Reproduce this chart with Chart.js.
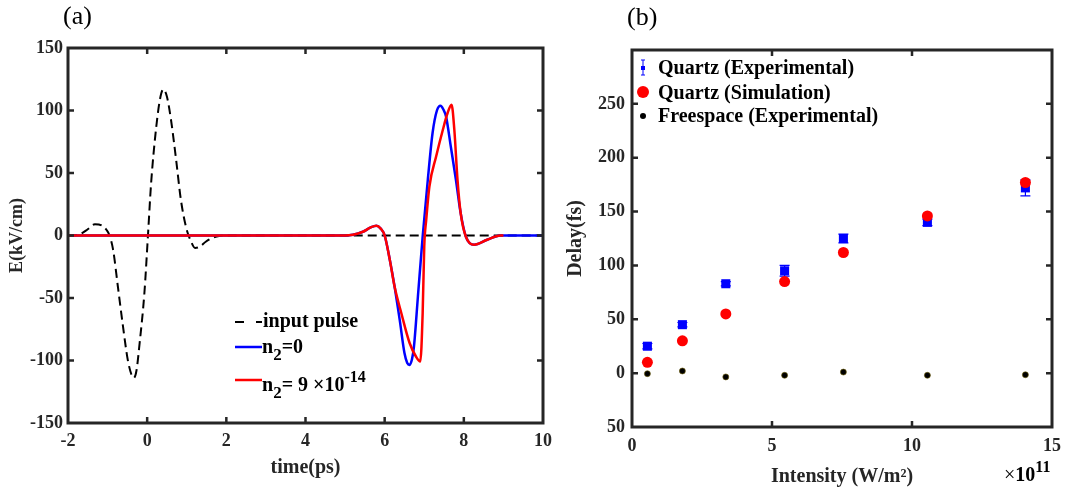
<!DOCTYPE html>
<html>
<head>
<meta charset="utf-8">
<script src="https://cdn.jsdelivr.net/npm/chart.js@4.4.1/dist/chart.umd.min.js"></script>
<style>
  body { margin:0; background:#fff; }
  #wrap { position:relative; width:1070px; height:495px; overflow:hidden; font-family:'Liberation Serif','Times New Roman',serif; color:#000; }
  canvas { position:absolute; top:0; }
  .lbl { position:absolute; white-space:nowrap; font-size:20px; line-height:20px; font-weight:bold; }
  .lbl sub, .lbl sup { line-height:0; }
</style>
</head>
<body>
<div id="wrap">
  <canvas id="chartA" width="560" height="495" style="left:0"></canvas>
  <canvas id="chartB" width="510" height="495" style="left:560px"></canvas>

  <div style="position:absolute;left:63px;top:2px;font-size:26px;line-height:28px">(a)</div>
  <div style="position:absolute;left:627px;top:3px;font-size:26px;line-height:28px">(b)</div>

  <!-- legend (a) -->
  <svg style="position:absolute;left:0;top:0" width="560" height="495">
    <line x1="235" y1="322" x2="262" y2="322" stroke="#000" stroke-width="2.2" stroke-dasharray="9,12"/>
    <line x1="235" y1="347" x2="262" y2="347" stroke="#0000ff" stroke-width="2.5"/>
    <line x1="235" y1="380" x2="262" y2="380" stroke="#ff0000" stroke-width="2.5"/>
  </svg>
  <div class="lbl" style="left:263px;top:310px">input pulse</div>
  <div class="lbl" style="left:262px;top:336px">n<sub style="font-size:17px;vertical-align:-7px">2</sub>=0</div>
  <div class="lbl" style="left:262px;top:374px">n<sub style="font-size:17px;vertical-align:-7px">2</sub>= 9 &times;10<sup style="font-size:16px;vertical-align:9px">-14</sup></div>

  <!-- legend (b) -->
  <svg style="position:absolute;left:560px;top:0" width="510" height="495">
    <g stroke="#0000ff" stroke-width="1">
      <line x1="83" y1="60" x2="83" y2="75"/>
      <line x1="81" y1="60" x2="85" y2="60"/>
      <line x1="81" y1="75" x2="85" y2="75"/>
    </g>
    <rect x="81" y="66" width="4" height="4" fill="#0000ff"/>
    <circle cx="83" cy="92" r="6" fill="#ff0000"/>
    <circle cx="83" cy="116" r="3" fill="#000"/>
  </svg>
  <div class="lbl" style="left:658px;top:57px">Quartz (Experimental)</div>
  <div class="lbl" style="left:658px;top:82px">Quartz (Simulation)</div>
  <div class="lbl" style="left:658px;top:105px">Freespace (Experimental)</div>

  <div style="position:absolute;left:1004px;top:464px;font-size:20px;line-height:20px;white-space:nowrap">&times;<b>10</b><sup style="font-size:16px;line-height:0;vertical-align:9px;font-weight:bold">11</sup></div>
</div>

<script>
// ---- panel (a): field vs time ----
const inputX = [-2, -1.7, -1.5, -1.32, -1.15, -1.03, -0.95, -0.86, -0.74, -0.61, -0.49, -0.4, -0.34, -0.27, -0.19, -0.07, 0.02, 0.1, 0.23, 0.33, 0.41, 0.5, 0.6, 0.73, 0.85, 0.98, 1.11, 1.21, 1.33, 1.48, 1.73, 2.0, 10];
const inputY = [0, 1, 5, 9, 8, 4.6, 0, -11.5, -40.8, -72.9, -99.5, -111, -114, -108, -86, -46, 0, 42, 87, 110, 117, 111, 93, 61, 29, 7, -5, -10, -9, -5, -1, 0, 0];

const n0X = [-2, 5.0, 5.2, 5.45, 5.65, 5.79, 5.9, 6.0, 6.13, 6.25, 6.38, 6.5, 6.57, 6.63, 6.69, 6.74, 6.84, 6.96, 7.09, 7.21, 7.32, 7.41, 7.48, 7.55, 7.67, 7.8, 7.92, 8.05, 8.26, 8.59, 8.92, 10];
const n0Y = [0, 0, 0.6, 3, 6.5, 7.8, 5.5, 0, -19.5, -40.8, -67.5, -94, -102, -103.5, -99, -88.9, -48.8, -0.8, 44.6, 82, 100, 103.8, 101, 95.3, 71.3, 44.6, 17.9, -0.8, -7.4, -3.4, 0, 0];

const n9X = [-2, 5.0, 5.2, 5.45, 5.65, 5.79, 5.9, 6.0, 6.13, 6.25, 6.42, 6.63, 6.79, 6.9, 6.96, 7.0, 7.05, 7.13, 7.3, 7.47, 7.59, 7.69, 7.76, 7.84, 7.92, 8.05, 8.26, 8.59, 8.92, 9.0];
const n9Y = [0, 0, 0.6, 3, 6.5, 7.8, 5.5, 0, -19.5, -40.8, -62, -86, -96.8, -100.8, -62, -8.8, 12.6, 39.2, 63.2, 84.6, 98, 104.6, 84.6, 44.6, 18, -0.8, -7.4, -3.4, 0, 0];

// ---- panel (b): delay vs intensity (x10^11 W/m^2) ----
const intensity  = [0.55, 1.8, 3.35, 5.45, 7.55, 10.55, 14.05];
const quartzExp  = [25, 45, 83, 95, 125, 140, 172];
const quartzErr  = [2.5, 2, 2, 5, 4, 3, 7.5];
const quartzSim  = [10, 30, 55, 85, 112, 146, 177];
const freeExp    = [-0.5, 2, -3.5, -2, 1, -2, -1.5];

const pts = (xs, ys) => xs.map((x, i) => ({ x, y: ys[i] }));

const INK = '#262626';
const tickFont  = { family: "'Liberation Serif','Times New Roman',serif", size: 18, weight: 'bold' };
const titleFont = { family: "'Liberation Serif','Times New Roman',serif", size: 20, weight: 'bold' };

// box frame with inward ticks on all four sides
const frame = {
  id: 'frame',
  afterDraw(chart) {
    const { ctx, chartArea: a, scales } = chart;
    const t = 6;
    ctx.save();
    ctx.strokeStyle = INK;
    ctx.lineWidth = 2.5;
    ctx.beginPath();
    scales.x.ticks.forEach(tk => {
      const px = scales.x.getPixelForValue(tk.value);
      if (px <= a.left + 2 || px >= a.right - 2) return;
      ctx.moveTo(px, a.bottom); ctx.lineTo(px, a.bottom - t);
      ctx.moveTo(px, a.top);    ctx.lineTo(px, a.top + t);
    });
    scales.y.ticks.forEach(tk => {
      const py = scales.y.getPixelForValue(tk.value);
      if (py <= a.top + 2 || py >= a.bottom - 2) return;
      ctx.moveTo(a.left, py);  ctx.lineTo(a.left + t, py);
      ctx.moveTo(a.right, py); ctx.lineTo(a.right - t, py);
    });
    ctx.stroke();
    ctx.lineWidth = 3;
    ctx.strokeRect(a.left, a.top, a.right - a.left, a.bottom - a.top);
    ctx.restore();
  }
};

const errorBars = {
  id: 'errorBars',
  beforeDatasetsDraw(chart) {
    const { ctx, scales: { x, y } } = chart;
    ctx.save();
    ctx.strokeStyle = '#0000ff';
    ctx.lineWidth = 1.2;
    intensity.forEach((v, i) => {
      const px  = x.getPixelForValue(v);
      const top = y.getPixelForValue(quartzExp[i] + quartzErr[i]);
      const bot = y.getPixelForValue(quartzExp[i] - quartzErr[i]);
      ctx.beginPath();
      ctx.moveTo(px, top); ctx.lineTo(px, bot);
      ctx.moveTo(px - 5, top); ctx.lineTo(px + 5, top);
      ctx.moveTo(px - 5, bot); ctx.lineTo(px + 5, bot);
      ctx.stroke();
    });
    ctx.restore();
  }
};

new Chart(document.getElementById('chartA'), {
  type: 'line',
  data: {
    datasets: [
      { label: 'n2= 9x10^-14', data: pts(n9X, n9Y), borderColor: '#ff0000', borderWidth: 2.5, pointRadius: 0, cubicInterpolationMode: 'monotone', order: 0 },
      { label: 'n2=0',         data: pts(n0X, n0Y), borderColor: '#0000ff', borderWidth: 2.5, pointRadius: 0, cubicInterpolationMode: 'monotone', order: 1 },
      { label: 'input pulse',  data: pts(inputX, inputY), borderColor: '#000000', borderWidth: 2, borderDash: [9, 5], pointRadius: 0, cubicInterpolationMode: 'monotone', order: 2 },
    ]
  },
  options: {
    responsive: false, animation: false,
    layout: { padding: { left: 0, top: 48, right: 14, bottom: 0 } },
    plugins: { legend: { display: false }, tooltip: { enabled: false } },
    scales: {
      x: {
        type: 'linear', min: -2, max: 10,
        grid: { display: false, drawTicks: false }, border: { display: false },
        ticks: { stepSize: 2, padding: 8, color: INK, font: tickFont, maxRotation: 0 },
        title: { display: true, text: 'time(ps)', color: INK, font: titleFont, padding: { top: 0, bottom: 15 } },
        afterFit: s => { s.height = 72; }
      },
      y: {
        min: -150, max: 150,
        grid: { display: false, drawTicks: false }, border: { display: false },
        ticks: { stepSize: 50, padding: 5, color: INK, font: tickFont },
        title: { display: true, text: 'E(kV/cm)', color: INK, font: { ...titleFont, size: 18 }, padding: { top: 7, bottom: 0 } },
        afterFit: s => { s.width = 68; }
      }
    }
  },
  plugins: [frame]
});

new Chart(document.getElementById('chartB'), {
  type: 'scatter',
  data: {
    datasets: [
      { label: 'Quartz (Simulation)',     data: pts(intensity, quartzSim), pointStyle: 'circle', pointRadius: 5.5, backgroundColor: '#ff0000', borderWidth: 0, order: 0 },
      { label: 'Quartz (Experimental)',   data: pts(intensity, quartzExp), pointStyle: 'rect',   pointRadius: 6.4, backgroundColor: '#0000ff', borderWidth: 0, order: 1 },
      { label: 'Freespace (Experimental)',data: pts(intensity, freeExp),   pointStyle: 'circle', pointRadius: 3,   backgroundColor: '#000000', borderColor: '#6b5a00', borderWidth: 0.6, order: 2 },
    ]
  },
  options: {
    responsive: false, animation: false,
    layout: { padding: { left: 0, top: 50, right: 13, bottom: 0 } },
    plugins: { legend: { display: false }, tooltip: { enabled: false } },
    scales: {
      x: {
        type: 'linear', min: 0, max: 15,
        grid: { display: false, drawTicks: false }, border: { display: false },
        ticks: { stepSize: 5, padding: 9, color: INK, font: tickFont, maxRotation: 0 },
        title: { display: true, text: 'Intensity (W/m²)', color: INK, font: titleFont, padding: { top: 0, bottom: 6 } },
        afterFit: s => { s.height = 68; }
      },
      y: {
        min: -50, max: 300,
        grid: { display: false, drawTicks: false }, border: { display: false },
        ticks: { stepSize: 50, padding: 7, color: INK, font: tickFont, callback: v => v === 300 ? '' : String(Math.abs(v)) },
        title: { display: true, text: 'Delay(fs)', color: INK, font: titleFont, padding: { top: 4, bottom: 0 } },
        afterFit: s => { s.width = 72; }
      }
    }
  },
  plugins: [errorBars, frame]
});
</script>
</body>
</html>
